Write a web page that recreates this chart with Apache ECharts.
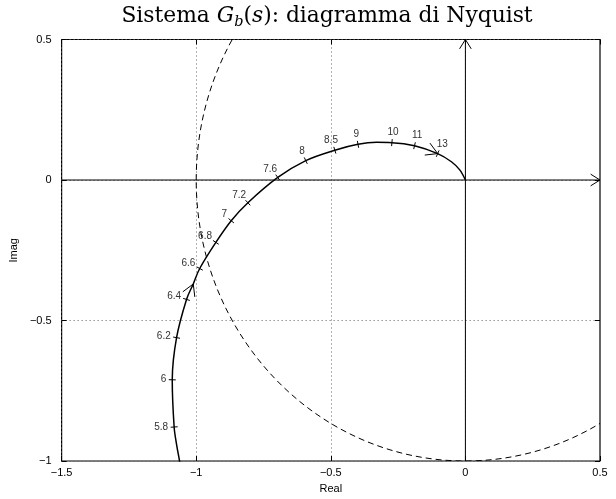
<!DOCTYPE html>
<html><head><meta charset="utf-8">
<script src="https://cdn.jsdelivr.net/npm/echarts@6/dist/echarts.min.js"></script>
<style>html,body{margin:0;padding:0;background:#fff}#c{width:616px;height:499px}</style>
</head><body><div id="c"></div>
<script>
// ---- data ----
const xRange = [-1.5, 0.5];
const yRange = [-1, 0.5];
const tickStep = 0.5;
// Nyquist curve (Re, Im), increasing frequency
const nyqRe = [-1.058,-1.063,-1.073,-1.082,-1.089,-1.073,-1.036,-1.011,-0.987,-0.927,-0.870,-0.808,-0.697,-0.593,-0.485,-0.399,-0.330,-0.273,-0.189,-0.103,-0.052,-0.021,0];
const nyqIm = [-1.02,-0.994,-0.941,-0.879,-0.711,-0.561,-0.425,-0.370,-0.315,-0.222,-0.145,-0.081,0.009,0.069,0.106,0.127,0.134,0.133,0.122,0.094,0.065,0.036,0];
// frequency labels along the curve
const freqLabels = ['5.8','6','6.2','6.4','6.6','6.8','7','7.2','7.6','8','8.5','9','10','11','13'];
const freqRe = [-1.082,-1.089,-1.073,-1.036,-0.987,-0.927,-0.870,-0.808,-0.697,-0.593,-0.485,-0.399,-0.273,-0.189,-0.103];
const freqIm = [-0.879,-0.711,-0.561,-0.425,-0.315,-0.222,-0.145,-0.081,0.009,0.069,0.106,0.127,0.133,0.122,0.094];
// direction arrows on the curve
const arrowRe = [-1.011,-0.103];
const arrowIm = [-0.370,0.094];
// unit circle: centre Re, centre Im, radius
const unitCircle = [[0,0,1]];
// real and imaginary axis lines
const realAxis = [[-1.5,0],[0.5,0]];
const imagAxis = [[0,-1],[0,0.5]];
// axis arrows: tip Re, tip Im, direction Re, direction Im
const axisArrows = [[0.5,0,1,0],[0,0.5,0,1]];

const chart = echarts.init(document.getElementById('c'), null, {renderer:'canvas'});
const mctx = document.createElement('canvas').getContext('2d');
const LABEL_FONT = '10px "Liberation Sans", Arial, sans-serif';
mctx.font = LABEL_FONT;
function tw(s){ return mctx.measureText(s).width; }
const minus = v => String(v).replace('-', '\u2212');

function tangentAt(api, re, im){
  const p = api.coord([re, im]);
  const pts = nyqRe.map((r,i)=>api.coord([r, nyqIm[i]]));
  let bi = 0, bd = Infinity;
  pts.forEach((q,i)=>{ const d=(q[0]-p[0])**2+(q[1]-p[1])**2; if(d<bd){bd=d;bi=i;} });
  const a = pts[Math.max(0,bi-1)], b = pts[Math.min(pts.length-1,bi+1)];
  const dx=b[0]-a[0], dy=b[1]-a[1], L=Math.hypot(dx,dy);
  return [p, dx/L, dy/L];
}
function arrowHead(p, dx, dy, L, ang){
  const bx=-dx, by=-dy;
  const rot = a => [bx*Math.cos(a)-by*Math.sin(a), bx*Math.sin(a)+by*Math.cos(a)];
  const b1=rot(ang), b2=rot(-ang);
  return {type:'polyline', shape:{points:[[p[0]+b1[0]*L,p[1]+b1[1]*L],[p[0],p[1]],[p[0]+b2[0]*L,p[1]+b2[1]*L]]},
    style:{stroke:'#000', fill:'none', lineWidth:1}};
}

const axisCommon = {
  type:'value', interval:tickStep,
  axisLine:{show:false, onZero:false},
  axisTick:{show:true, inside:true, length:5, lineStyle:{color:'#000'}},
  splitLine:{show:false}
};
const SERIF = '"DejaVu Serif", "Liberation Serif", serif';
const TS = 21.8;

const option = {
  animation:false,
  backgroundColor:'#fff',
  title:{
    left:322, top:-2, textAlign:'center',
    text:'{n|Sistema }{i|G}{s|b}{n|(}{i|s}{n|): diagramma di Nyquist}',
    textStyle:{
      fontWeight:'normal',
      rich:{
        n:{fontFamily:SERIF, fontWeight:'normal', fontSize:TS, color:'#000', lineHeight:27},
        i:{fontFamily:SERIF, fontWeight:'normal', fontStyle:'italic', fontSize:TS, color:'#000', lineHeight:27},
        s:{fontFamily:SERIF, fontWeight:'normal', fontStyle:'italic', fontSize:14.5, color:'#000', lineHeight:14, verticalAlign:'bottom'}
      }
    }
  },
  grid:{left:57.5, right:16, top:39.5, bottom:32.3, show:true, borderColor:'#000', borderWidth:1.2, backgroundColor:'#fff', containLabel:false},
  xAxis:[
    Object.assign({}, axisCommon, {min:xRange[0], max:xRange[1], position:'bottom',
      name:'Real', nameLocation:'middle', nameGap:22,
      nameTextStyle:{fontFamily:'"Liberation Sans", Arial', fontSize:11, color:'#000'},
      axisLabel:{show:true, margin:6, fontFamily:'"Liberation Sans", Arial', fontSize:11, color:'#000', formatter:minus},
      splitLine:{show:true, lineStyle:{color:'#666', type:[1,3], width:1}}}),
    Object.assign({}, axisCommon, {min:xRange[0], max:xRange[1], position:'top', axisLabel:{show:false}})
  ],
  yAxis:[
    Object.assign({}, axisCommon, {min:yRange[0], max:yRange[1], position:'left',
      name:'Imag', nameLocation:'middle', nameGap:31, nameRotate:90,
      nameTextStyle:{fontFamily:'"Liberation Sans", Arial', fontSize:11, color:'#000'},
      axisLabel:{show:true, margin:10, fontFamily:'"Liberation Sans", Arial', fontSize:11, color:'#000', formatter:minus},
      splitLine:{show:true, lineStyle:{color:'#666', type:[1,3], width:1}}}),
    Object.assign({}, axisCommon, {min:yRange[0], max:yRange[1], position:'right', axisLabel:{show:false}})
  ],
  series:[
    { type:'custom', name:'unit circle', xAxisIndex:0, yAxisIndex:0, data:unitCircle, z:2,
      renderItem:(params, api)=>{
        const c = api.coord([api.value(0), api.value(1)]);
        const s = api.size([api.value(2), api.value(2)]);
        const cs = params.coordSys;
        return {type:'ellipse', shape:{cx:c[0], cy:c[1], rx:s[0], ry:s[1]},
          style:{fill:'none', stroke:'#000', lineWidth:1, lineDash:[6,4]},
          clipPath:{type:'rect', shape:{x:cs.x, y:cs.y, width:cs.width, height:cs.height}}};
      }},
    { type:'line', name:'real axis', data:realAxis, symbol:'none', lineStyle:{color:'#000', width:1}, z:3, silent:true },
    { type:'line', name:'imag axis', data:imagAxis, symbol:'none', lineStyle:{color:'#000', width:1}, z:3, silent:true },
    { type:'custom', name:'axis arrows', data:axisArrows, z:4,
      renderItem:(params, api)=>{
        const p = api.coord([api.value(0), api.value(1)]);
        const q = api.coord([api.value(0)-api.value(2)*0.1, api.value(1)-api.value(3)*0.1]);
        const dx=p[0]-q[0], dy=p[1]-q[1], L=Math.hypot(dx,dy);
        return arrowHead(p, dx/L, dy/L, 11, 32*Math.PI/180);
      }},
    { type:'line', name:'G_b', data:nyqRe.map((r,i)=>[r, nyqIm[i]]), symbol:'none', smooth:0.35, clip:true,
      lineStyle:{color:'#000', width:1.5}, z:5, silent:true },
    { type:'custom', name:'freq ticks', data:freqRe.map((r,i)=>[r, freqIm[i], i]), z:6,
      renderItem:(params, api)=>{
        const [p,dx,dy] = tangentAt(api, api.value(0), api.value(1));
        const nx = dy, ny = -dx;
        const lab = freqLabels[api.value(2)];
        const w = tw(lab), h = 9, g = 6;
        const cx = p[0] + nx*(g + w/2), cy = p[1] + ny*(g + h/2);
        return {type:'group', children:[
          {type:'line', shape:{x1:p[0]-nx*3.5, y1:p[1]-ny*3.5, x2:p[0]+nx*3.5, y2:p[1]+ny*3.5}, style:{stroke:'#000', lineWidth:1}},
          {type:'text', x:cx, y:cy, style:{text:lab, align:'center', verticalAlign:'middle', font:LABEL_FONT, fill:'#333'}}
        ]};
      }},
    { type:'custom', name:'curve arrows', data:arrowRe.map((r,i)=>[r, arrowIm[i]]), z:6,
      renderItem:(params, api)=>{
        const [p,dx,dy] = tangentAt(api, api.value(0), api.value(1));
        return arrowHead(p, dx, dy, 13, 30*Math.PI/180);
      }}
  ]
};
chart.setOption(option);
</script></body></html>
